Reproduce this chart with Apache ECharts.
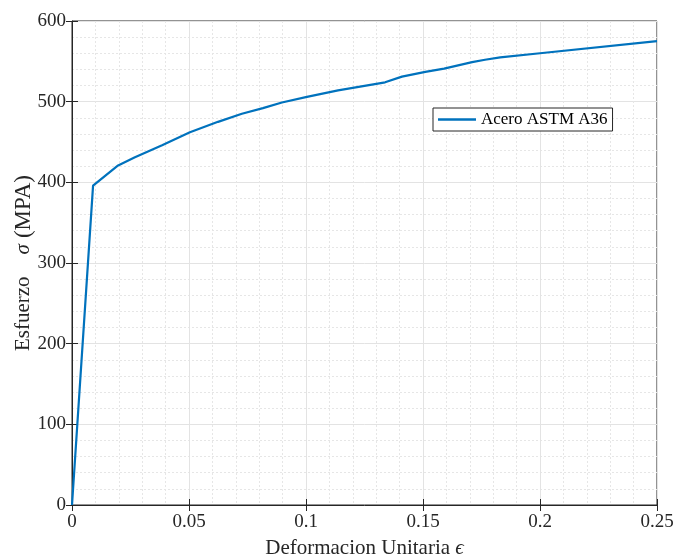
<!DOCTYPE html>
<html><head><meta charset="utf-8">
<script src="https://cdn.jsdelivr.net/npm/echarts@6/dist/echarts.min.js"></script>
<style>html,body{margin:0;padding:0;background:#fff}#c{width:676px;height:556px}</style>
</head><body><div id="c"></div>
<script>
const strain = [0, 0.009, 0.0197, 0.0269, 0.0385, 0.0504, 0.0624, 0.0726, 0.0816, 0.0897, 0.1004, 0.1137, 0.1338, 0.141, 0.151, 0.159, 0.171, 0.1765, 0.183, 0.200, 0.250];
const stress = [0, 396, 421, 431, 446, 462, 475, 485, 492, 499, 506, 514, 524, 531, 537, 541, 549, 552, 555, 560, 575];
const seriesName = 'Acero ASTM A36';
const xTicks = [0, 0.05, 0.1, 0.15, 0.2, 0.25];
const yTicks = [0, 100, 200, 300, 400, 500, 600];

const axisColor = '#262626';
const font = 'Liberation Serif, Times New Roman, serif';
const chart = echarts.init(document.getElementById('c'), null, {renderer: 'canvas'});
const data = strain.map((x, i) => [x, stress[i]]);
const common = {
  axisLine: {show: true, lineStyle: {color: axisColor, width: 1}},
  axisTick: {show: true, inside: true, length: 6, lineStyle: {color: axisColor}},
  minorTick: {show: false, splitNumber: 5},
  splitLine: {show: true, lineStyle: {color: '#e3e3e3', width: 1}},
  minorSplitLine: {show: true, lineStyle: {color: '#e6e6e6', width: 1, type: [2, 2]}},
};
const nameRich = {
  n: {fontFamily: font, fontSize: 21, color: axisColor},
  i: {fontFamily: font, fontSize: 21, fontStyle: 'italic', color: axisColor},
  s: {fontFamily: font, fontSize: 21, fontStyle: 'italic', color: axisColor, padding: [0, 6, 0, 22]},
  m: {fontFamily: font, fontSize: 23, color: axisColor}
};
chart.setOption({
  animation: false,
  backgroundColor: '#fff',
  grid: {left: 72, right: 19, top: 21, bottom: 51, show: true, borderColor: axisColor, borderWidth: 1,
    backgroundColor: 'transparent', containLabel: false, outerBoundsMode: 'none'},
  legend: {
    left: 433, top: 108, orient: 'vertical',
    padding: [3, 5, 3, 5],
    itemWidth: 38, itemHeight: 10, itemGap: 4,
    borderColor: axisColor, borderWidth: 1, backgroundColor: '#fff',
    textStyle: {fontFamily: font, fontSize: 17, color: '#000'},
    data: [{name: seriesName, icon: 'path://M0,0 L38,0 L38,2.4 L0,2.4 Z'}]
  },
  xAxis: [Object.assign({}, common, {
    type: 'value', min: 0, max: 0.25, interval: 0.05,
    axisLabel: {fontFamily: font, fontSize: 19, color: axisColor, margin: 8,
      formatter: v => { const r = Math.round(v*100)/100; return xTicks.includes(r) ? String(r) : ''; }},
    name: '{n|Deformacion Unitaria }{i|ϵ}', nameLocation: 'middle', nameGap: 33, nameMoveOverlap: false,
    nameTextStyle: {rich: nameRich}
  }), {
    type: 'value', position: 'top', min: 0, max: 0.25, interval: 0.05,
    axisLine: {show: false}, axisLabel: {show: false}, splitLine: {show: false},
    axisTick: {show: true, inside: true, length: 6, lineStyle: {color: axisColor}}
  }],
  yAxis: [Object.assign({}, common, {
    type: 'value', min: 0, max: 600, interval: 100,
    axisLabel: {fontFamily: font, fontSize: 19, color: axisColor, margin: 6,
      formatter: v => yTicks.includes(v) ? String(v) : ''},
    name: '{n|Esfuerzo}{s|σ}{m|(MPA)}', nameLocation: 'middle', nameGap: 37, nameMoveOverlap: false,
    nameTextStyle: {rich: nameRich}
  }), {
    type: 'value', position: 'right', min: 0, max: 600, interval: 100,
    axisLine: {show: false}, axisLabel: {show: false}, splitLine: {show: false},
    axisTick: {show: true, inside: true, length: 6, lineStyle: {color: axisColor}}
  }],
  series: [{
    name: seriesName, type: 'line', data: data, symbol: 'none', showSymbol: false,
    lineStyle: {color: '#0072BD', width: 2.2}, itemStyle: {color: '#0072BD'}, z: 5
  }]
});
</script></body></html>
